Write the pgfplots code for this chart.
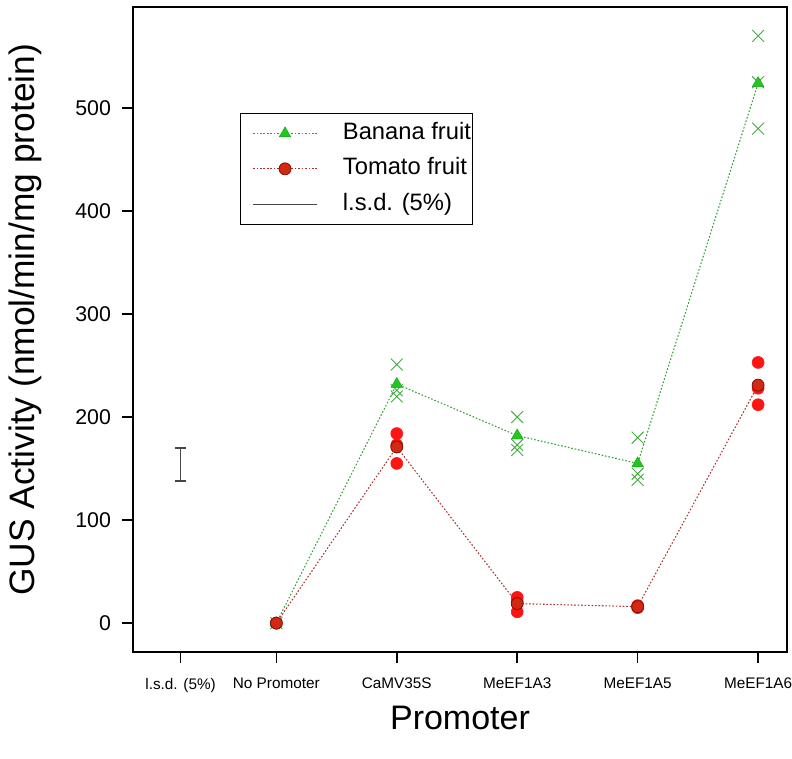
\documentclass[border=0pt]{standalone}
\usepackage{fontspec}
\setmainfont{Liberation Sans}
\usepackage{pgfplots}
\pgfplotsset{compat=1.18}
\definecolor{bline}{RGB}{50,160,50}
\definecolor{btri}{RGB}{30,200,30}
\definecolor{bcross}{RGB}{70,170,70}
\definecolor{rline}{RGB}{170,50,50}
\definecolor{rdot}{RGB}{255,20,20}
\definecolor{rmean}{RGB}{210,40,20}
\definecolor{redge}{RGB}{120,20,10}
\definecolor{lsd}{RGB}{70,70,70}
\begin{document}
\begin{tikzpicture}
\useasboundingbox (-99.75pt,-80.25pt) rectangle (494.25pt,489pt);
\begin{axis}[
 at={(0,0)}, anchor=south west,
 scale only axis, width=490.5pt, height=483.75pt,
 xmin=-0.19, xmax=5.24, ymin=-28, ymax=598,
 axis line style={line width=1.2pt},
 tick align=outside, xtick pos=bottom, ytick pos=left,
 major tick length=8pt, tick style={line width=1.2pt, black},
 xtick={0.205,1,2,3,4,5},
 xticklabels={l.s.d. (5\%),No Promoter,CaMV35S,MeEF1A3,MeEF1A5,MeEF1A6},
 ytick={0,100,200,300,400,500},
 /pgf/number format/assume math mode=true,
 x tick label style={font=\fontsize{11.5}{13}\selectfont, yshift=-8pt},
 y tick label style={font=\fontsize{16}{18}\selectfont, xshift=-5pt},
 xlabel={Promoter}, ylabel={GUS Activity (nmol/min/mg protein)},
 xlabel style={font=\fontsize{25.5}{28}\selectfont, at={(axis description cs:0.5,0)}, anchor=center, yshift=-49.5pt},
 ylabel style={font=\fontsize{26.5}{29}\selectfont, at={(axis description cs:0,0.515)}, anchor=center, yshift=81pt},
 legend style={at={(0.1636,0.8357)}, anchor=north west, draw=black, line width=0.8pt,
   font=\fontsize{17.8}{20}\selectfont, inner xsep=0pt, inner ysep=5.5pt, row sep=7.5pt,
   nodes={inner sep=1pt, text height=13pt, text depth=4pt}},
 legend cell align=left,
]
% banana replicates
\addplot[forget plot, only marks, mark=x, mark size=6.3pt, color=bcross, mark options={line width=0.7pt}]
 coordinates {(1,0)(2,251)(2,226)(2,220)(3,200)(3,173)(3,168)(4,180)(4,145)(4,139)(5,570)(5,525)(5,480)};
% banana mean
\addplot[color=bline, line width=0.8pt, dash pattern=on 1.2pt off 1.4pt, mark=triangle*, mark size=5pt,
  mark options={solid, fill=btri, draw=btri!80!black, line width=0.3pt},
  legend image code/.code={\draw[mark repeat=2,mark phase=2] plot coordinates {(0pt,0pt)(24pt,0pt)(48pt,0pt)}; \path (-9pt,0pt) (66pt,0pt);}]
 coordinates {(1,0)(2,232)(3,182)(4,155)(5,524)};
\addlegendentry{Banana fruit}
% tomato replicates
\addplot[forget plot, only marks, mark=*, mark size=4.5pt, color=rdot, mark options={draw=rdot, fill=rdot}]
 coordinates {(1,0)(2,184)(2,173)(2,155)(3,25)(3,21)(3,11)(4,17)(4,16)(4,15)(5,253)(5,228)(5,212)};
% tomato mean
\addplot[color=rline, line width=0.8pt, dash pattern=on 1.2pt off 1.4pt, mark=*, mark size=4.5pt,
  mark options={solid, fill=rmean, draw=redge, line width=0.6pt},
  legend image code/.code={\draw[mark repeat=2,mark phase=2] plot coordinates {(0pt,0pt)(24pt,0pt)(48pt,0pt)}; \path (-9pt,0pt) (66pt,0pt);}]
 coordinates {(1,0)(2,171)(3,19)(4,16)(5,231)};
\addlegendentry{Tomato fruit}
% lsd bar
\addplot[forget plot, draw=none, mark=none,
  error bars/.cd, y dir=both, y explicit,
  error bar style={draw=lsd, line width=0.9pt},
  error mark options={rotate=90, draw=lsd, line width=0.9pt, mark size=4pt}]
 coordinates {(0.205,154) +- (0,16)};
\addlegendimage{legend image code/.code={\draw[lsd, line width=0.8pt] (0pt,0pt) -- (48pt,0pt); \path (-9pt,0pt) (66pt,0pt);}}
\addlegendentry{l.s.d. (5\%)}
\end{axis}
\end{tikzpicture}
\end{document}
